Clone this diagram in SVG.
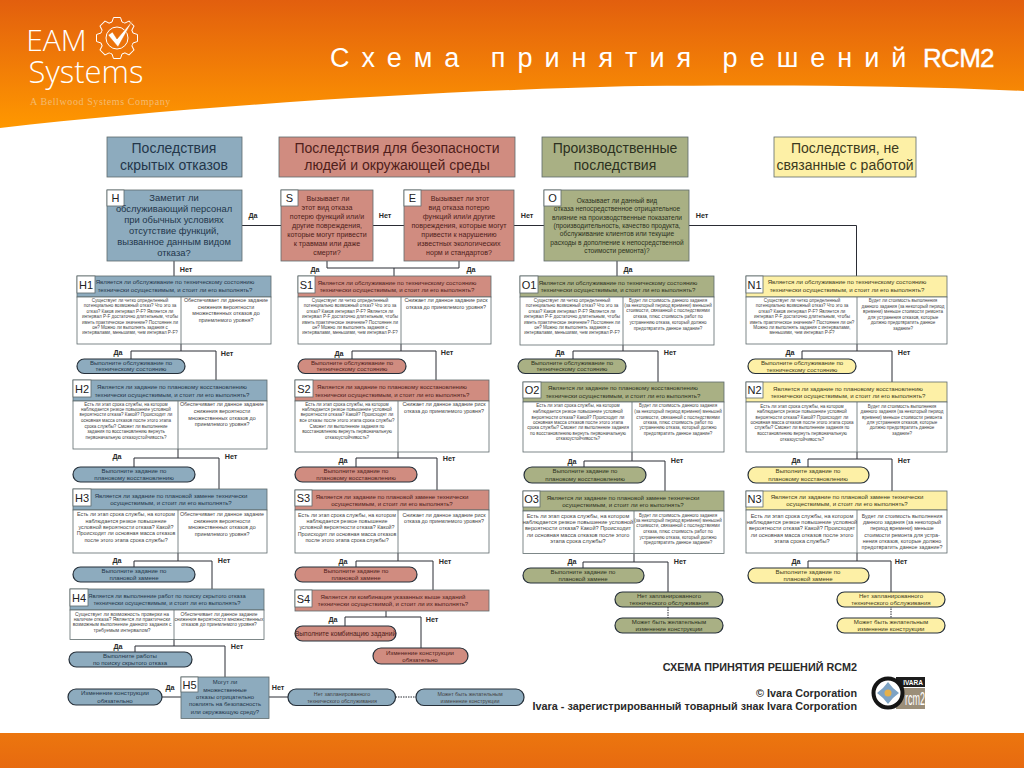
<svg xmlns="http://www.w3.org/2000/svg" width="1024" height="768" viewBox="0 0 1024 768">
<style>
text{font-family:"Liberation Sans",Arial,sans-serif;text-anchor:middle}
.f{stroke:#5e6a6c;stroke-width:.8}
.w{fill:#fff;stroke:#5e6a6c;stroke-width:.8}
.p{stroke:#26303a;stroke-width:1.2}
.d{stroke:#5e6a6c;stroke-width:.8;fill:none}
.c-h .f,.c-h .p{fill:#8dabbe}
.c-s .f,.c-s .p{fill:#d08c80}
.c-o .f,.c-o .p{fill:#a9b084}
.c-n .f,.c-n .p{fill:#fdf0a6}
.c-h text{fill:#23364a}
.c-s text{fill:#4f1d1a}
.c-o text{fill:#2c3020}
.c-n text{fill:#3c3a20}
.title{font-size:14px}
.big{font-size:9.4px}
.q7{font-size:7.1px}
.q6{font-size:6.6px}
.q5{font-size:5.9px}
.h{font-size:6.1px}
.h4{font-size:5.8px}
.pt{font-size:6.1px}
.pl{font-size:6.6px}
.c-h .s,.c-s .s,.c-o .s,.c-n .s,.c-h .m,.c-s .m,.c-o .m,.c-n .m,.c-h .m2,.c-o .m2,.c-n .m2,.c-h .s4{fill:#444}
.s{font-size:4.55px}
.s4{font-size:4.9px}
.m{font-size:5.35px}
.m2{font-size:5.6px}
.lab{font-size:11px;fill:#222!important}
.yn{font-size:7.2px;font-weight:bold;fill:#2a2a2a}
#conn path,#conn line{fill:none;stroke:#2a2c34;stroke-width:1}
#conn .dash{stroke-dasharray:1.5 1}
.foot{font-size:10.8px;font-weight:bold;fill:#2a2a2a;text-anchor:end}
</style>
<defs>
<linearGradient id="top" x1="0" y1="0" x2="0" y2="1"><stop offset="0" stop-color="#e25f0e"/><stop offset="1" stop-color="#ff9800"/></linearGradient>
<linearGradient id="bot" x1="0" y1="0" x2="0" y2="1"><stop offset="0" stop-color="#ec760e"/><stop offset="1" stop-color="#e76a10"/></linearGradient>
<path id="tooth" d="M-5 -16L-3.5 -20.5H3.5L5 -16A16.8 16.8 0 0 1 7.78 -14.85" fill="none" stroke="#fff" stroke-width="1"/>
</defs>
<rect width="1024" height="768" fill="#fff"/>
<path id="banner" d="M0 0H1024V91C900 85 760 85 640 86C450 90 200 105 0 128Z" fill="url(#top)"/>
<rect id="footerband" x="0" y="733" width="1024" height="35" fill="url(#bot)"/>
<g id="logo">
<text x="56.500" y="51" font-size="30" fill="#fff" style="font-family:'Open Sans',sans-serif;font-weight:300">EAM</text>
<text x="86" y="83" font-size="31" fill="#fff" style="font-family:'Open Sans',sans-serif;font-weight:300">Systems</text>
<text x="100.500" y="105" font-size="10" fill="#f3bb70" style="font-family:'Liberation Serif',serif;letter-spacing:.6px">A Bellwood Systems Company</text>
<g transform="translate(117 38)">
<use href="#tooth"/><use href="#tooth" transform="rotate(45)"/><use href="#tooth" transform="rotate(90)"/><use href="#tooth" transform="rotate(135)"/><use href="#tooth" transform="rotate(180)"/><use href="#tooth" transform="rotate(225)"/><use href="#tooth" transform="rotate(270)"/><use href="#tooth" transform="rotate(315)"/>
<circle r="11" fill="none" stroke="#fff" stroke-width="1"/>
<path d="M-9 -3L-4.500 -6L0 1L16 -18L1 9Z" fill="#fff" stroke="#e8720c" stroke-width=".6"/>
</g>
</g>
<g id="title">
<text x="330" y="67" font-size="27" fill="#fff" style="text-anchor:start;letter-spacing:12px">Схема принятия решений</text>
<text x="923" y="67" font-size="26" fill="#fff" stroke="#fff" stroke-width=".4" style="text-anchor:start;letter-spacing:-.7px">RCM2</text>
</g>

<g id="conn">
<path d="M242 225.500H281M373 225.500H404M514 225.500H544M689 225.500H856.500V276"/>
<path d="M174 261V276M617 261V276M327 261V268H459V261M394 268V276"/>
<path d="M181 344V351M131 359V351H216V380"/>
<path d="M178 449V458M134 467V458H219V489"/>
<path d="M178 553V561M134 567V561H212V589"/>
<path d="M174 639V646M135 652V646H225V677"/>
<path d="M162 697H181M269 697H288"/>
<path class="dash" d="M395.500 697H416"/>
<path d="M401 344V351M352 359V351H436V380"/>
<path d="M398 452V458M356 467V458H437V490"/>
<path d="M398 553V561M356 567V561H433V590"/>
<path d="M386 611V617M345 626V617H421V648"/>
<path d="M623 345V351M573 359V351H658V382"/>
<path d="M632 452V461M584 467V461H665V491"/>
<path d="M634 553V562M583 568V562H668V592"/>
<path class="dash" d="M668 607V618"/>
<path d="M857 344V351M802 359V351H892V382"/>
<path d="M857 452V459M808 467V459H892V491"/>
<path d="M857 553V561M808 568V561H891V592"/>
<path class="dash" d="M891 606V618"/>
</g>

<g id="labels">
<text class="yn" x="253" y="218">Да</text><text class="yn" x="186" y="272">Нет</text>
<text class="yn" x="385" y="218">Нет</text><text class="yn" x="527" y="218">Нет</text><text class="yn" x="702" y="218">Нет</text>
<text class="yn" x="315" y="272">Да</text><text class="yn" x="471" y="272">Да</text><text class="yn" x="628" y="272">Да</text>
<text class="yn" x="118" y="355">Да</text><text class="yn" x="227" y="356">Нет</text>
<text class="yn" x="117" y="459">Да</text><text class="yn" x="231" y="459">Нет</text>
<text class="yn" x="117" y="563">Да</text><text class="yn" x="224" y="563">Нет</text>
<text class="yn" x="118" y="649">Да</text><text class="yn" x="237" y="649">Нет</text>
<text class="yn" x="170" y="690">Да</text><text class="yn" x="278" y="690">Нет</text>
<text class="yn" x="339" y="356">Да</text><text class="yn" x="447" y="355">Нет</text>
<text class="yn" x="343" y="463">Да</text><text class="yn" x="449" y="461">Нет</text>
<text class="yn" x="343" y="564">Да</text><text class="yn" x="445" y="564">Нет</text>
<text class="yn" x="333" y="622">Да</text><text class="yn" x="432" y="622">Нет</text>
<text class="yn" x="560" y="355">Да</text><text class="yn" x="670" y="355">Нет</text>
<text class="yn" x="572" y="464">Да</text><text class="yn" x="677" y="463">Нет</text>
<text class="yn" x="572" y="564">Да</text><text class="yn" x="680" y="564">Нет</text>
<text class="yn" x="790" y="355">Да</text><text class="yn" x="904" y="355">Нет</text>
<text class="yn" x="796" y="463">Да</text><text class="yn" x="904" y="463">Нет</text>
<text class="yn" x="796" y="564">Да</text><text class="yn" x="901" y="564">Нет</text>
</g>

<g id="head-h" class="c-h"><rect class="f" x="107" y="137" width="135" height="40"/><text class="title"><tspan x="174" y="153">Последствия</tspan><tspan x="174" y="170">скрытых отказов</tspan></text></g>
<g id="head-s" class="c-s"><rect class="f" x="279" y="137" width="236" height="40"/><text class="title"><tspan x="397" y="153">Последствия для безопасности</tspan><tspan x="397" y="170">людей и окружающей среды</tspan></text></g>
<g id="head-o" class="c-o"><rect class="f" x="542" y="137" width="146" height="40"/><text class="title"><tspan x="615" y="153">Производственные</tspan><tspan x="615" y="170">последствия</tspan></text></g>
<g id="head-n" class="c-n"><rect class="f" x="774" y="137" width="142" height="40"/><text class="title"><tspan x="845" y="153">Последствия, не</tspan><tspan x="845" y="170">связанные с работой</tspan></text></g>

<g id="H" class="c-h"><rect class="f" x="107" y="190" width="135" height="71"/><rect class="w" x="107" y="190" width="17" height="16"/><text class="lab" x="115.500" y="202">H</text>
<text class="big"><tspan x="174" y="201">Заметит ли</tspan><tspan x="174" y="212">обслуживающий персонал</tspan><tspan x="174" y="223">при обычных условиях</tspan><tspan x="174" y="234">отсутствие функций,</tspan><tspan x="174" y="245">вызванное данным видом</tspan><tspan x="174" y="256">отказа?</tspan></text></g>

<g id="S" class="c-s"><rect class="f" x="281" y="190" width="92" height="71"/><rect class="w" x="281" y="190" width="17" height="16"/><text class="lab" x="289.500" y="202">S</text>
<text class="q7"><tspan x="328" y="200.500">Вызывает ли</tspan><tspan x="327" y="209.500">этот вид отказа</tspan><tspan x="327" y="218.500">потерю функций или/и</tspan><tspan x="327" y="227.500">другие повреждения,</tspan><tspan x="327" y="236.500">которые могут привести</tspan><tspan x="327" y="245.500">к травмам или даже</tspan><tspan x="327" y="254.500">смерти?</tspan></text></g>

<g id="E" class="c-s"><rect class="f" x="404" y="190" width="110" height="71"/><rect class="w" x="404" y="190" width="17" height="16"/><text class="lab" x="412.500" y="202">E</text>
<text class="q7"><tspan x="460" y="200.500">Вызывает ли этот</tspan><tspan x="459" y="209.500">вид отказа потерю</tspan><tspan x="459" y="218.500">функций или/и другие</tspan><tspan x="459" y="227.500">повреждения, которые могут</tspan><tspan x="459" y="236.500">привести к нарушению</tspan><tspan x="459" y="245.500">известных экологических</tspan><tspan x="459" y="254.500">норм и стандартов?</tspan></text></g>

<g id="O" class="c-o"><rect class="f" x="544" y="190" width="145" height="71"/><rect class="w" x="544" y="190" width="17" height="16"/><text class="lab" x="552.500" y="202">O</text>
<text class="q6"><tspan x="617" y="202.500">Оказывает ли данный вид</tspan><tspan x="617" y="211">отказа непосредственное отрицательное</tspan><tspan x="617" y="219.500">влияние на производственные показатели</tspan><tspan x="617" y="227.500">(производительность, качество продукта,</tspan><tspan x="617" y="236">обслуживание клиентов или текущие</tspan><tspan x="617" y="244.500">расходы в дополнение к непосредственной</tspan><tspan x="617" y="252.500">стоимости ремонта)?</tspan></text></g>

<g id="H1" class="c-h"><rect class="f" x="77" y="276" width="194" height="21"/><rect class="w" x="77" y="297" width="194" height="47"/><line class="d" x1="181" y1="297" x2="181" y2="344"/><rect class="w" x="77" y="276" width="18" height="17"/><text class="lab" x="86" y="288.500">H1</text>
<text class="h"><tspan x="175" y="284">Является ли обслуживание по техническому состоянию</tspan><tspan x="175" y="291.500">технически осуществимым, и стоит ли его выполнять?</tspan></text>
<text class="s"><tspan x="130" y="302">Существует ли четко определенный</tspan><tspan x="130" y="307.300">потенциально возможный отказ? Что это за</tspan><tspan x="130" y="312.600">отказ? Каков интервал P-F? Является ли</tspan><tspan x="130" y="318">интервал P-F достаточно длительным, чтобы</tspan><tspan x="130" y="323.500">иметь практическое значение? Постоянен ли</tspan><tspan x="130" y="329">он? Можно ли выполнять задания с</tspan><tspan x="130" y="334.300">интервалами, меньшими, чем интервал P-F?</tspan></text>
<text class="m"><tspan x="226" y="302">Обеспечивает ли данное задание</tspan><tspan x="226" y="308.500">снижения вероятности</tspan><tspan x="226" y="315">множественных отказов до</tspan><tspan x="226" y="321.500">приемлемого уровня?</tspan></text></g>
<g id="H1-do" class="c-h"><rect class="p" x="77" y="359" width="108" height="14.500" rx="7.200"/><text class="pt"><tspan x="131" y="364.500">Выполните обслуживание по</tspan><tspan x="131" y="371">техническому состоянию</tspan></text></g>

<g id="H2" class="c-h"><rect class="f" x="73" y="380" width="194" height="21"/><rect class="w" x="73" y="401" width="194" height="48"/><line class="d" x1="178" y1="401" x2="178" y2="449"/><rect class="w" x="73" y="380" width="18" height="17"/><text class="lab" x="82" y="392.500">H2</text>
<text class="h"><tspan x="172" y="389">Является ли задание по плановому восстановлению</tspan><tspan x="172" y="396.500">технически осуществимым, и стоит ли его выполнять?</tspan></text>
<text class="s"><tspan x="126" y="406">Есть ли этап срока службы, на котором</tspan><tspan x="126" y="411">наблюдается резкое повышение условной</tspan><tspan x="126" y="416">вероятности отказа? Какой? Происходит ли</tspan><tspan x="126" y="421.700">основная масса отказов после этого этапа</tspan><tspan x="126" y="427.500">срока службы? Сможет ли выполнение</tspan><tspan x="126" y="433">задания по восстановлению вернуть</tspan><tspan x="126" y="438.500">первоначальную отказоустойчивость?</tspan></text>
<text class="m"><tspan x="222" y="406">Обеспечивает ли данное задание</tspan><tspan x="222" y="413">снижения вероятности</tspan><tspan x="222" y="419.700">множественных отказов до</tspan><tspan x="222" y="426.300">приемлемого уровня?</tspan></text></g>
<g id="H2-do" class="c-h"><rect class="p" x="73" y="467" width="122" height="15" rx="7.500"/><text class="pt"><tspan x="134" y="472.500">Выполните задание по</tspan><tspan x="134" y="480">плановому восстановлению</tspan></text></g>

<g id="H3" class="c-h"><rect class="f" x="73" y="489" width="194" height="21"/><rect class="w" x="73" y="510" width="194" height="43"/><line class="d" x1="178" y1="510" x2="178" y2="553"/><rect class="w" x="73" y="489" width="18" height="17"/><text class="lab" x="82" y="501.500">H3</text>
<text class="h"><tspan x="171" y="498">Является ли задание по плановой замене технически</tspan><tspan x="171" y="505">осуществимым, и стоит ли его выполнять?</tspan></text>
<text class="m"><tspan x="126" y="516">Есть ли этап срока службы, на котором</tspan><tspan x="126" y="522.500">наблюдается резкое повышение</tspan><tspan x="126" y="529">условной вероятности отказа? Какой?</tspan><tspan x="126" y="535.300">Происходит ли основная масса отказов</tspan><tspan x="126" y="541.700">после этого этапа срока службы?</tspan></text>
<text class="m"><tspan x="222" y="516">Обеспечивает ли данное задание</tspan><tspan x="222" y="522.800">снижения вероятности</tspan><tspan x="222" y="529.300">множественных отказов до</tspan><tspan x="222" y="535.700">приемлемого уровня?</tspan></text></g>
<g id="H3-do" class="c-h"><rect class="p" x="73" y="567" width="122" height="15" rx="7.500"/><text class="pt"><tspan x="134" y="573">Выполните задание по</tspan><tspan x="134" y="580">плановой замене</tspan></text></g>

<g id="H4" class="c-h"><rect class="f" x="70" y="589" width="194" height="21"/><rect class="w" x="70" y="610" width="194" height="29.500"/><line class="d" x1="174" y1="610" x2="174" y2="639.500"/><rect class="w" x="70" y="589" width="18" height="17"/><text class="lab" x="79" y="601.500">H4</text>
<text class="h4"><tspan x="167" y="598">Является ли выполнение работ по поиску скрытого отказа</tspan><tspan x="167" y="604.500">технически осуществимым, и стоит ли его выполнять?</tspan></text>
<text class="s4"><tspan x="122" y="616">Существует ли возможность проверки на</tspan><tspan x="122" y="621">наличие отказа? Является ли практически</tspan><tspan x="122" y="626">возможным выполнение данного задания с</tspan><tspan x="122" y="631.500">требуемым интервалом?</tspan></text>
<text class="s4"><tspan x="219" y="616">Обеспечивает ли данное задание</tspan><tspan x="219" y="621">снижения вероятности множественных</tspan><tspan x="219" y="626">отказов до приемлемого уровня?</tspan></text></g>
<g id="H4-do" class="c-h"><rect class="p" x="69" y="652" width="123" height="15" rx="7.500"/><text class="pt"><tspan x="130" y="658">Выполните работы</tspan><tspan x="130" y="665">по поиску скрытого отказа</tspan></text></g>

<g id="H5" class="c-h"><rect class="f" x="181" y="677" width="88" height="41.500"/><rect class="w" x="181" y="677" width="17" height="15"/><text class="lab" x="189.500" y="688.500">H5</text>
<text class="q5"><tspan x="225" y="684">Могут ли</tspan><tspan x="225" y="692">множественные</tspan><tspan x="225" y="699.300">отказы отрицательно</tspan><tspan x="225" y="706">повлиять на безопасность</tspan><tspan x="225" y="714">или окружающую среду?</tspan></text></g>
<g id="H5-yes" class="c-h"><rect class="p" x="68" y="689" width="94" height="16" rx="8"/><text class="pt"><tspan x="115" y="695">Изменение конструкции</tspan><tspan x="115" y="702.500">обязательно</tspan></text></g>
<g id="H5-no" class="c-h"><rect class="p" x="288" y="689" width="107.500" height="16.500" rx="8"/><text class="m"><tspan x="342" y="696">Нет запланированного</tspan><tspan x="342" y="703">технического обслуживания</tspan></text></g>
<g id="H5-redesign" class="c-h"><rect class="p" x="416" y="689" width="108" height="16.500" rx="8"/><text class="m"><tspan x="470" y="696">Может быть желательным</tspan><tspan x="470" y="703">изменение конструкции</tspan></text></g>

<g id="S1" class="c-s"><rect class="f" x="298" y="276" width="193" height="21"/><rect class="w" x="298" y="297" width="193" height="47"/><line class="d" x1="401" y1="297" x2="401" y2="344"/><rect class="w" x="298" y="276" width="17" height="17"/><text class="lab" x="306.500" y="288.500">S1</text>
<text class="h"><tspan x="397" y="285">Является ли обслуживание по техническому состоянию</tspan><tspan x="397" y="292">технически осуществимым, и стоит ли его выполнять?</tspan></text>
<text class="s"><tspan x="350" y="302">Существует ли четко определенный</tspan><tspan x="350" y="307.300">потенциально возможный отказ? Что это за</tspan><tspan x="350" y="312.600">отказ? Каков интервал P-F? Является ли</tspan><tspan x="350" y="318">интервал P-F достаточно длительным, чтобы</tspan><tspan x="350" y="323.500">иметь практическое значение? Постоянен ли</tspan><tspan x="350" y="329">он? Можно ли выполнять задания с</tspan><tspan x="350" y="334.300">интервалами, меньшими, чем интервал P-F?</tspan></text>
<text class="m"><tspan x="446" y="302">Снижает ли данное задание риск</tspan><tspan x="446" y="309">отказа до приемлемого уровня?</tspan></text></g>
<g id="S1-do" class="c-s"><rect class="p" x="298" y="359" width="108" height="14.500" rx="7.200"/><text class="pt"><tspan x="352" y="364.500">Выполните обслуживание по</tspan><tspan x="352" y="371">техническому состоянию</tspan></text></g>

<g id="S2" class="c-s"><rect class="f" x="295" y="380" width="194" height="21"/><rect class="w" x="295" y="401" width="194" height="51"/><line class="d" x1="398" y1="401" x2="398" y2="452"/><rect class="w" x="295" y="380" width="18" height="17"/><text class="lab" x="304" y="392.500">S2</text>
<text class="h"><tspan x="392" y="389">Является ли задание по плановому восстановлению</tspan><tspan x="392" y="396.500">технически осуществимым, и стоит ли его выполнять?</tspan></text>
<text class="s"><tspan x="347" y="406">Есть ли этап срока службы, на котором</tspan><tspan x="347" y="411">наблюдается резкое повышение условной</tspan><tspan x="347" y="416">вероятности отказа? Какой? Происходят ли</tspan><tspan x="347" y="421.700">все отказы после этого этапа срока службы?</tspan><tspan x="347" y="427.500">Сможет ли выполнение задания по</tspan><tspan x="347" y="433">восстановлению вернуть первоначальную</tspan><tspan x="347" y="438.500">отказоустойчивость?</tspan></text>
<text class="m"><tspan x="444" y="406">Снижает ли данное задание риск</tspan><tspan x="444" y="413">отказа до приемлемого уровня?</tspan></text></g>
<g id="S2-do" class="c-s"><rect class="p" x="295" y="467" width="122" height="15" rx="7.500"/><text class="pt"><tspan x="356" y="473">Выполните задание по</tspan><tspan x="356" y="480">плановому восстановлению</tspan></text></g>

<g id="S3" class="c-s"><rect class="f" x="295" y="490" width="194" height="20"/><rect class="w" x="295" y="510" width="194" height="43"/><line class="d" x1="398" y1="510" x2="398" y2="553"/><rect class="w" x="295" y="490" width="17" height="16"/><text class="lab" x="303.500" y="502">S3</text>
<text class="h"><tspan x="392" y="499">Является ли задание по плановой замене технически</tspan><tspan x="392" y="506">осуществимым, и стоит ли его выполнять?</tspan></text>
<text class="m"><tspan x="347" y="517">Есть ли этап срока службы, на котором</tspan><tspan x="347" y="523">наблюдается резкое повышение</tspan><tspan x="347" y="529.300">условной вероятности отказа? Какой?</tspan><tspan x="347" y="535.700">Происходит ли основная масса отказов</tspan><tspan x="347" y="542">после этого этапа срока службы?</tspan></text>
<text class="m"><tspan x="444" y="517">Снижает ли данное задание риск</tspan><tspan x="444" y="523">отказа до приемлемого уровня?</tspan></text></g>
<g id="S3-do" class="c-s"><rect class="p" x="295" y="567" width="122" height="15" rx="7.500"/><text class="pt"><tspan x="356" y="573">Выполните задание по</tspan><tspan x="356" y="580">плановой замене</tspan></text></g>

<g id="S4" class="c-s"><rect class="f" x="295" y="590" width="194" height="21"/><rect class="w" x="295" y="590" width="17" height="17"/><text class="lab" x="303.500" y="602.500">S4</text>
<text class="h"><tspan x="393" y="599">Является ли комбинация указанных выше заданий</tspan><tspan x="393" y="606">технически осуществимой, и стоит ли их выполнять?</tspan></text></g>
<g id="S4-do" class="c-s"><rect class="p" x="295" y="626" width="101" height="15" rx="7.500"/><text class="pl" x="345.500" y="635.800">Выполните комбинацию заданий</text></g>
<g id="S4-redesign" class="c-s"><rect class="p" x="373" y="648" width="95" height="16" rx="8"/><text class="pt"><tspan x="420" y="654.500">Изменение конструкции</tspan><tspan x="420" y="662">обязательно</tspan></text></g>

<g id="O1" class="c-o"><rect class="f" x="520" y="276" width="194" height="21"/><rect class="w" x="520" y="297" width="194" height="48"/><line class="d" x1="623" y1="297" x2="623" y2="345"/><rect class="w" x="520" y="276" width="18" height="17"/><text class="lab" x="529" y="288.500">O1</text>
<text class="h"><tspan x="618" y="284.500">Является ли обслуживание по техническому состоянию</tspan><tspan x="618" y="292">технически осуществимым, и стоит ли его выполнять?</tspan></text>
<text class="s"><tspan x="572" y="302">Существует ли четко определенный</tspan><tspan x="572" y="307.300">потенциально возможный отказ? Что это за</tspan><tspan x="572" y="312.600">отказ? Каков интервал P-F? Является ли</tspan><tspan x="572" y="318">интервал P-F достаточно длительным, чтобы</tspan><tspan x="572" y="323.500">иметь практическое значение? Постоянен ли</tspan><tspan x="572" y="329">он? Можно ли выполнять задания с</tspan><tspan x="572" y="334.300">интервалами, меньшими, чем интервал P-F?</tspan></text>
<text class="s"><tspan x="668" y="302">Будет ли стоимость данного задания</tspan><tspan x="668" y="307">(за некоторый период времени) меньшей</tspan><tspan x="668" y="312">стоимости, связанной с последствиями</tspan><tspan x="668" y="318">отказа, плюс стоимость работ по</tspan><tspan x="668" y="324">устранению отказа, который должно</tspan><tspan x="668" y="330">предотвратить данное задание?</tspan></text></g>
<g id="O1-do" class="c-o"><rect class="p" x="518" y="359" width="108" height="14.500" rx="7.200"/><text class="pt"><tspan x="572" y="364.500">Выполните обслуживание по</tspan><tspan x="572" y="371">техническому состоянию</tspan></text></g>

<g id="O2" class="c-o"><rect class="f" x="523" y="382" width="201" height="20"/><rect class="w" x="523" y="402" width="201" height="50"/><line class="d" x1="632" y1="402" x2="632" y2="452"/><rect class="w" x="523" y="382" width="18" height="16"/><text class="lab" x="532" y="394">O2</text>
<text class="h"><tspan x="623" y="390">Является ли задание по плановому восстановлению</tspan><tspan x="623" y="397.500">технически осуществимым, и стоит ли его выполнять?</tspan></text>
<text class="s"><tspan x="578" y="407">Есть ли этап срока службы, на котором</tspan><tspan x="578" y="412.700">наблюдается резкое повышение условной</tspan><tspan x="578" y="418.500">вероятности отказа? Какой? Происходит ли</tspan><tspan x="578" y="423.700">основная масса отказов после этого этапа</tspan><tspan x="578" y="429">срока службы? Сможет ли выполнение задания</tspan><tspan x="578" y="434.700">по восстановлению вернуть первоначальную</tspan><tspan x="578" y="440">отказоустойчивость?</tspan></text>
<text class="s"><tspan x="678" y="407">Будет ли стоимость данного задания</tspan><tspan x="678" y="412.700">(за некоторый период времени) меньшей</tspan><tspan x="678" y="418.500">стоимости, связанной с последствиями</tspan><tspan x="678" y="423.700">отказа, плюс стоимость работ по</tspan><tspan x="678" y="429">устранению отказа, который должно</tspan><tspan x="678" y="434.700">предотвратить данное задание?</tspan></text></g>
<g id="O2-do" class="c-o"><rect class="p" x="524" y="467" width="122" height="16" rx="8"/><text class="pt"><tspan x="585" y="473">Выполните задание по</tspan><tspan x="585" y="481">плановому восстановлению</tspan></text></g>

<g id="O3" class="c-o"><rect class="f" x="523" y="491" width="201" height="20"/><rect class="w" x="523" y="511" width="201" height="42.500"/><line class="d" x1="634" y1="511" x2="634" y2="553.500"/><rect class="w" x="523" y="491" width="17" height="16"/><text class="lab" x="531.500" y="503">O3</text>
<text class="h"><tspan x="623" y="499.500">Является ли задание по плановой замене технически</tspan><tspan x="623" y="506.500">осуществимым, и стоит ли его выполнять?</tspan></text>
<text class="m2"><tspan x="578" y="517.500">Есть ли этап срока службы, на котором</tspan><tspan x="578" y="524">наблюдается резкое повышение условной</tspan><tspan x="578" y="530">вероятности отказа? Какой? Происходит</tspan><tspan x="578" y="537">ли основная масса отказов после этого</tspan><tspan x="578" y="543">этапа срока службы?</tspan></text>
<text class="s"><tspan x="678" y="517">Будет ли стоимость данного задания</tspan><tspan x="678" y="522">(за некоторый период времени) меньшей</tspan><tspan x="678" y="527">стоимости, связанной с последствиями</tspan><tspan x="678" y="533">отказа, плюс стоимость работ по</tspan><tspan x="678" y="538.700">устранению отказа, который должно</tspan><tspan x="678" y="544">предотвратить данное задание?</tspan></text></g>
<g id="O3-do" class="c-o"><rect class="p" x="523" y="568" width="121" height="15" rx="7.500"/><text class="pt"><tspan x="583" y="574">Выполните задание по</tspan><tspan x="583" y="581">плановой замене</tspan></text></g>
<g id="O3-no" class="c-o"><rect class="p" x="615" y="592" width="108" height="15" rx="7.500"/><text class="pt"><tspan x="669" y="597.500">Нет запланированного</tspan><tspan x="669" y="605">технического обслуживания</tspan></text></g>
<g id="O3-redesign" class="c-o"><rect class="p" x="615" y="618" width="108" height="15" rx="7.500"/><text class="pt"><tspan x="669" y="623.500">Может быть желательным</tspan><tspan x="669" y="631">изменение конструкции</tspan></text></g>

<g id="N1" class="c-n"><rect class="f" x="746" y="276" width="201" height="21"/><rect class="w" x="746" y="297" width="201" height="47"/><line class="d" x1="857" y1="297" x2="857" y2="344"/><rect class="w" x="746" y="276" width="17" height="17"/><text class="lab" x="754.500" y="288.500">N1</text>
<text class="h"><tspan x="847" y="284">Является ли обслуживание по техническому состоянию</tspan><tspan x="847" y="291.500">технически осуществимым, и стоит ли его выполнять?</tspan></text>
<text class="s"><tspan x="802" y="302">Существует ли четко определенный</tspan><tspan x="802" y="307.300">потенциально возможный отказ? Что это за</tspan><tspan x="802" y="312.600">отказ? Каков интервал P-F? Является ли</tspan><tspan x="802" y="318">интервал P-F достаточно длительным, чтобы</tspan><tspan x="802" y="323.500">иметь практическое значение? Постоянен ли он?</tspan><tspan x="802" y="329">Можно ли выполнять задания с интервалами,</tspan><tspan x="802" y="334.300">меньшими, чем интервал P-F?</tspan></text>
<text class="s"><tspan x="903" y="302">Будет ли стоимость выполнения</tspan><tspan x="903" y="307.700">данного задания (за некоторый период</tspan><tspan x="903" y="313">времени) меньше стоимости ремонта</tspan><tspan x="903" y="318.700">для устранения отказов, которые</tspan><tspan x="903" y="324">должно предотвратить данное</tspan><tspan x="903" y="329.500">задание?</tspan></text></g>
<g id="N1-do" class="c-n"><rect class="p" x="748" y="359" width="108" height="14.500" rx="7.200"/><text class="pt"><tspan x="802" y="365">Выполните обслуживание по</tspan><tspan x="802" y="371.500">техническому состоянию</tspan></text></g>

<g id="N2" class="c-n"><rect class="f" x="746" y="382" width="201" height="20"/><rect class="w" x="746" y="402" width="201" height="50"/><line class="d" x1="857" y1="402" x2="857" y2="452"/><rect class="w" x="746" y="382" width="17" height="16"/><text class="lab" x="754.500" y="394">N2</text>
<text class="h"><tspan x="848" y="390.500">Является ли задание по плановому восстановлению</tspan><tspan x="848" y="398">технически осуществимым, и стоит ли его выполнять?</tspan></text>
<text class="s"><tspan x="802" y="407.500">Есть ли этап срока службы, на котором</tspan><tspan x="802" y="413">наблюдается резкое повышение условной</tspan><tspan x="802" y="419">вероятности отказа? Какой? Происходит ли</tspan><tspan x="802" y="424">основная масса отказов после этого этапа срока</tspan><tspan x="802" y="429">службы? Сможет ли выполнение задания по</tspan><tspan x="802" y="435">восстановлению вернуть первоначальную</tspan><tspan x="802" y="440.500">отказоустойчивость?</tspan></text>
<text class="s"><tspan x="902" y="407.500">Будет ли стоимость выполнения</tspan><tspan x="902" y="413">данного задания (за некоторый период</tspan><tspan x="902" y="419">времени) меньше стоимости ремонта</tspan><tspan x="902" y="424">для устранения отказов, которые</tspan><tspan x="902" y="429">должно предотвратить данное</tspan><tspan x="902" y="435">задание?</tspan></text></g>
<g id="N2-do" class="c-n"><rect class="p" x="748" y="467" width="121" height="16" rx="8"/><text class="pt"><tspan x="808" y="473">Выполните задание по</tspan><tspan x="808" y="481">плановому восстановлению</tspan></text></g>

<g id="N3" class="c-n"><rect class="f" x="746" y="491" width="201" height="19"/><rect class="w" x="746" y="510" width="201" height="43"/><line class="d" x1="857" y1="510" x2="857" y2="553"/><rect class="w" x="746" y="491" width="17" height="16"/><text class="lab" x="754.500" y="503">N3</text>
<text class="h"><tspan x="847" y="499">Является ли задание по плановой замене технически</tspan><tspan x="847" y="506">осуществимым, и стоит ли его выполнять?</tspan></text>
<text class="m2"><tspan x="802" y="517.500">Есть ли этап срока службы, на котором</tspan><tspan x="802" y="523.700">наблюдается резкое повышение условной</tspan><tspan x="802" y="530">вероятности отказа? Какой? Происходят</tspan><tspan x="802" y="536.500">ли основная масса отказов после этого</tspan><tspan x="802" y="542.500">этапа срока службы?</tspan></text>
<text class="m"><tspan x="902" y="517.500">Будет ли стоимость выполнения</tspan><tspan x="902" y="523.700">данного задания (за некоторый</tspan><tspan x="902" y="530">период времени) меньше</tspan><tspan x="902" y="536.500">стоимости ремонта для устра-</tspan><tspan x="902" y="542.700">нения отказов, которые должно</tspan><tspan x="902" y="549.300">предотвратить данное задание?</tspan></text></g>
<g id="N3-do" class="c-n"><rect class="p" x="748" y="568" width="121" height="15" rx="7.500"/><text class="pt"><tspan x="808" y="573.500">Выполните задание по</tspan><tspan x="808" y="581">плановой замене</tspan></text></g>
<g id="N3-no" class="c-n"><rect class="p" x="837" y="592" width="108" height="15" rx="7.500"/><text class="pt"><tspan x="891" y="597.500">Нет запланированного</tspan><tspan x="891" y="604.500">технического обслуживания</tspan></text></g>
<g id="N3-redesign" class="c-n"><rect class="p" x="837" y="618" width="108" height="15" rx="7.500"/><text class="pt"><tspan x="891" y="623.500">Может быть желательным</tspan><tspan x="891" y="631">изменение конструкции</tspan></text></g>

<g id="footer-text">
<text class="foot" x="857" y="671">СХЕМА ПРИНЯТИЯ РЕШЕНИЙ RCM2</text>
<text class="foot" x="857" y="697">© Ivara Corporation</text>
<text class="foot" x="857" y="710">Ivara - зарегистрированный товарный знак Ivara Corporation</text>
</g>
<g id="rcm-logo">
<rect x="896" y="677" width="29" height="10" fill="#1d1d1d"/>
<rect x="896" y="688" width="29" height="21" fill="#9b8e79"/>
<text x="913" y="684.500" font-size="6.500" font-weight="bold" fill="#fff">IVARA</text>
<text transform="translate(915 705) scale(.5 1)" font-size="18" fill="#fff">rcm2</text>
<circle cx="888" cy="693" r="14.500" fill="#fff" stroke="#151515" stroke-width="4"/>
<path d="M888 682L893 688L899 693L893 698L888 704L883 698L877 693L883 688Z" fill="#7ea3c4"/>
<circle cx="888" cy="693" r="3.500" fill="#e5b04a"/>
</g>
</svg>
